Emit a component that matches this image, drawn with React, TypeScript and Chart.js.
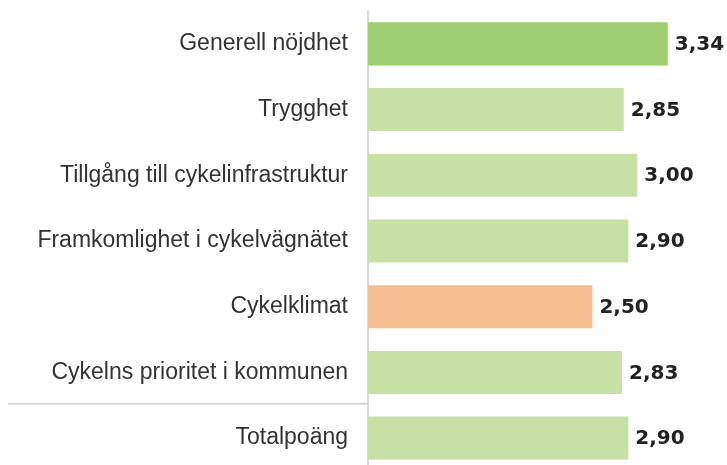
import React, { useEffect, useRef } from "react";
import { Chart, registerables } from "chart.js";

Chart.register(...registerables);

const categories = [
  "Generell nöjdhet",
  "Trygghet",
  "Tillgång till cykelinfrastruktur",
  "Framkomlighet i cykelvägnätet",
  "Cykelklimat",
  "Cykelns prioritet i kommunen",
  "Totalpoäng",
];
const values = [3.34, 2.85, 3.0, 2.9, 2.5, 2.83, 2.9];
const barColors = [
  "#9ecc70",
  "#c8e0a6",
  "#c8e0a6",
  "#c8e0a6",
  "#f5be91",
  "#c8e0a6",
  "#c8e0a6",
];

const valueLabels = {
  id: "valueLabels",
  afterDatasetsDraw(chart: any) {
    const ctx = chart.ctx;
    const meta = chart.getDatasetMeta(0);
    ctx.save();
    ctx.font = "bold 20px 'DejaVu Sans'";
    ctx.fillStyle = "#222222";
    ctx.textAlign = "left";
    ctx.textBaseline = "middle";
    meta.data.forEach((bar: any, i: number) => {
      const txt = values[i].toFixed(2).replace(".", ",");
      ctx.fillText(txt, bar.x + 7, bar.y + 1);
    });
    ctx.restore();
  },
};

const separator = {
  id: "separator",
  afterDraw(chart: any) {
    const y = chart.scales.y;
    const ctx = chart.ctx;
    const p = (y.getPixelForTick(5) + y.getPixelForTick(6)) / 2 - 1.5;
    ctx.save();
    ctx.strokeStyle = "#d4d4d4";
    ctx.lineWidth = 2;
    ctx.beginPath();
    ctx.moveTo(8, p);
    ctx.lineTo(chart.chartArea.left, p);
    ctx.stroke();
    ctx.restore();
  },
};

export default function App() {
  const ref = useRef<HTMLCanvasElement>(null);
  useEffect(() => {
    if (!ref.current) return;
    const chart = new Chart(ref.current, {
      type: "bar",
      data: {
        labels: categories,
        datasets: [
          {
            data: values,
            backgroundColor: barColors,
            borderWidth: 0,
            barPercentage: 0.655,
            categoryPercentage: 1,
          },
        ],
      },
      options: {
        indexAxis: "y",
        animation: false,
        responsive: false,
        layout: { padding: { top: 11, left: 0, right: 0, bottom: 0 } },
        plugins: {
          legend: { display: false },
          tooltip: { enabled: false },
        },
        scales: {
          x: { display: false, min: 0, max: 4 },
          y: {
            afterFit(scale: any) {
              scale.width = 368;
              scale.paddingTop = 0;
              scale.paddingBottom = 0;
            },
            grid: { display: false, drawTicks: false },
            border: { display: true, color: "#d9d9d9", width: 2 },
            ticks: {
              padding: 20,
              color: "#333333",
              font: { family: "'Liberation Sans', Arial", size: 23 },
            },
          },
        },
      },
      plugins: [valueLabels, separator],
    });
    return () => chart.destroy();
  }, []);
  return (
    <div
      style={{
        position: "fixed",
        left: 0,
        top: 0,
        width: 727,
        height: 471,
        background: "#fff",
      }}
    >
      <canvas ref={ref} width={727} height={471} />
    </div>
  );
}
